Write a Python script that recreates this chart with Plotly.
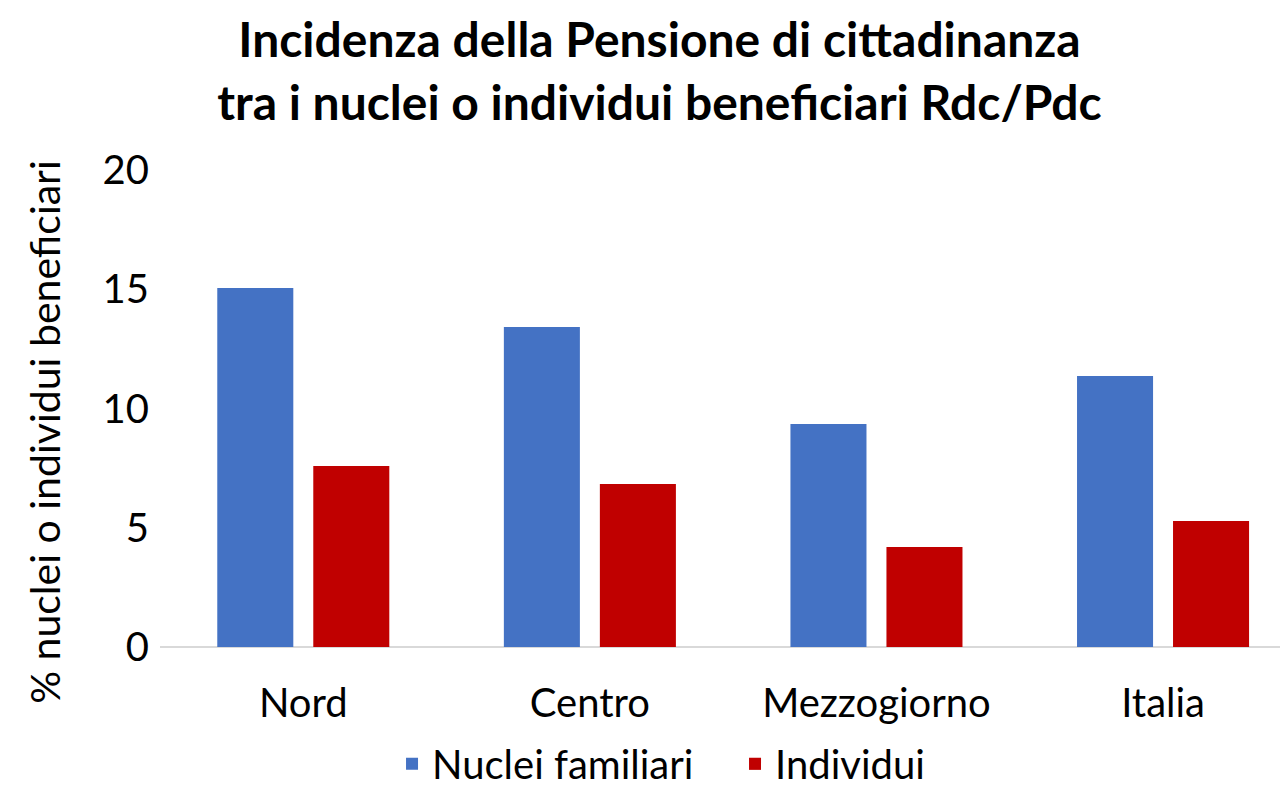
import plotly.graph_objects as go

categories = ["Nord", "Centro", "Mezzogiorno", "Italia"]
nuclei = [15.05, 13.42, 9.35, 11.36]
individui = [7.59, 6.83, 4.19, 5.28]
yticks = [0, 5, 10, 15, 20]

FONT = "Lato"

fig = go.Figure()
fig.add_trace(go.Bar(x=categories, y=nuclei, name="Nuclei familiari",
                     marker=dict(color="#4472C4", line=dict(width=0))))
fig.add_trace(go.Bar(x=categories, y=individui, name="Individui",
                     marker=dict(color="#C00000", line=dict(width=0))))

fig.update_layout(
    width=1280, height=782,
    paper_bgcolor="white", plot_bgcolor="white",
    margin=dict(l=152, r=0, t=162, b=143, autoexpand=False),
    barmode="group", bargap=0.33, bargroupgap=0.208,
    font=dict(family=FONT, color="black"),
    title=dict(text="<b>Incidenza della Pensione di cittadinanza<br>tra i nuclei o individui beneficiari Rdc/Pdc</b>",
               x=0.509, xanchor="center", y=0.937, yanchor="middle",
               font=dict(size=48, family=FONT, color="black")),
    legend=dict(orientation="h", x=0.2057, xanchor="left", y=-0.245, yanchor="middle",
                font=dict(size=40, family=FONT), itemwidth=30, tracegroupgap=0,
                entrywidth=298, entrywidthmode="pixels"),
    showlegend=True,
)
fig.update_xaxes(range=[-0.5, 3.436], showgrid=False, showline=False, zeroline=False,
                 ticks="", tickfont=dict(size=40, family=FONT), ticklabelstandoff=29)
fig.update_yaxes(range=[0, 20], tickvals=yticks, showgrid=False, showline=False,
                 zeroline=True, zerolinecolor="#D9D9D9", zerolinewidth=2,
                 ticks="", tickfont=dict(size=40, family=FONT), ticklabelstandoff=10)
fig.add_annotation(text="% nuclei o individui beneficiari", textangle=-90,
                   xref="paper", yref="paper", x=-0.102, y=0.451,
                   xanchor="center", yanchor="middle", showarrow=False,
                   font=dict(size=41, family=FONT, color="black"))

fig.write_html("out.html")
